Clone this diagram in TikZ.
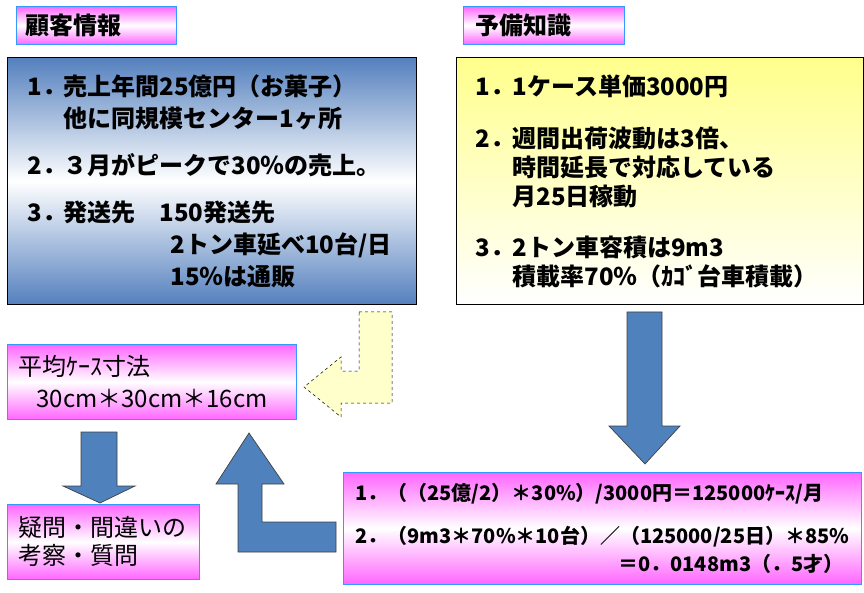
\documentclass[tikz,border=0pt]{standalone}
\usepackage{fontspec}
\setmainfont{Noto Sans CJK JP}
\usetikzlibrary{positioning}
\definecolor{arrowblue}{RGB}{79,129,189}
\definecolor{boxblue}{RGB}{84,128,190}
\definecolor{pinkfill}{RGB}{255,102,255}
\definecolor{edgeblue}{RGB}{51,153,255}
\definecolor{yellowtop}{RGB}{255,255,140}
\definecolor{paleyellow}{RGB}{255,255,204}
\tikzset{
  box/.style={anchor=north west, align=left, inner ysep=0pt},
  pinkbox/.style={box, draw=edgeblue, line width=0.8pt,
    top color=pinkfill, bottom color=pinkfill, middle color=white},
  bluebox/.style={box, draw=black, line width=1.2pt,
    top color=boxblue, bottom color=boxblue, middle color=white},
  yellowbox/.style={box, draw=black, line width=1.2pt,
    top color=yellowtop, bottom color=white},
  blockarrow/.style={fill=arrowblue, draw=black!75, line width=0.7pt},
  hintarrow/.style={fill=paleyellow, draw=black, line width=0.5pt, dashed}
}
\begin{document}
\begin{tikzpicture}[x=1pt,y=-1pt]
\useasboundingbox (0,0) rectangle (864,593);
% titles
\node[pinkbox, minimum width=160pt, minimum height=38pt, inner xsep=9pt,
  text width=142pt, font=\fontsize{24}{28}\selectfont\bfseries]
  (kokyakutitle) at (16,6) {顧客情報};
\node[pinkbox, minimum width=161pt, minimum height=38pt, inner xsep=12pt,
  text width=137pt, font=\fontsize{24}{28}\selectfont\bfseries]
  (yobititle) at (463,6) {予備知識};
% customer data
\node[bluebox, minimum width=409pt, minimum height=247pt, inner xsep=20pt,
  text width=369pt, font=\fontsize{24}{32}\selectfont\bfseries]
  (kokyaku) at (7,57) {%
  \makebox[36pt][l]{1．}売上年間25億円（お菓子）\\
  \hspace*{36pt}他に同規模センター1ヶ所\\[15pt]
  \makebox[36pt][l]{2．}３月がピークで30％の売上。\\[15pt]
  \makebox[36pt][l]{3．}発送先　150発送先\\
  \hspace*{143pt}2トン車延べ10台/日\\
  \hspace*{143pt}15％は通販};
% background knowledge
\node[yellowbox, minimum width=407pt, minimum height=247pt, inner xsep=19pt,
  text width=369pt, font=\fontsize{24}{29}\selectfont\bfseries]
  (yobi) at (456,57) {%
  \makebox[37pt][l]{1．}1ケース単価3000円\\[23pt]
  \makebox[37pt][l]{2．}週間出荷波動は3倍、\\
  \hspace*{37pt}時間延長で対応している\\
  \hspace*{37pt}月25日稼動\\[22pt]
  \makebox[37pt][l]{3．}2トン車容積は9m3\\
  \hspace*{37pt}積載率70％（ｶｺﾞ台車積載）};
% case size
\node[pinkbox, minimum width=289pt, minimum height=75pt, inner xsep=11pt,
  text width=267pt, font=\fontsize{24}{32}\selectfont]
  (sunpou) at (7,344) {平均ｹｰｽ寸法\\
  \hspace*{18pt}30cm＊30cm＊16cm};
% questions
\node[pinkbox, minimum width=192pt, minimum height=75pt, inner xsep=11pt,
  text width=170pt, font=\fontsize{24}{28}\selectfont]
  (gimon) at (7,504) {疑問・間違いの\\考察・質問};
% calculation
\node[pinkbox, minimum width=518pt, minimum height=112pt, inner xsep=12pt,
  text width=494pt, font=\fontsize{20}{28}\selectfont\bfseries]
  (keisan) at (343,472) {%
  1．（（25億/2）＊30\%）/3000円＝125000ｹｰｽ/月\\[15pt]
  2．（9m3＊70\%＊10台）／（125000/25日）＊85\%\\
  \makebox[\linewidth][r]{＝0．0148m3（．5才）\hspace*{6pt}}};
%% block arrows
\draw[hintarrow] (359,312) -- (392,312) -- (392,403) -- (341,403) -- (341,417)
  -- (304,387) -- (341,357) -- (341,371) -- (359,371) -- cycle;
\draw[blockarrow] (627,312) -- (662,312) -- (662,426) -- (680,426) -- (645,464)
  -- (609,426) -- (627,426) -- cycle; % yobi to keisan
\draw[blockarrow] (249,433) -- (284,484) -- (262,484) -- (262,522) -- (336,522)
  -- (336,552) -- (238,552) -- (238,484) -- (216,484) -- cycle; % keisan to sunpou
\draw[blockarrow] (81,432) -- (117,432) -- (117,486) -- (135,486) -- (100,503)
  -- (63,486) -- (81,486) -- cycle; % sunpou to gimon
\end{tikzpicture}
\end{document}
